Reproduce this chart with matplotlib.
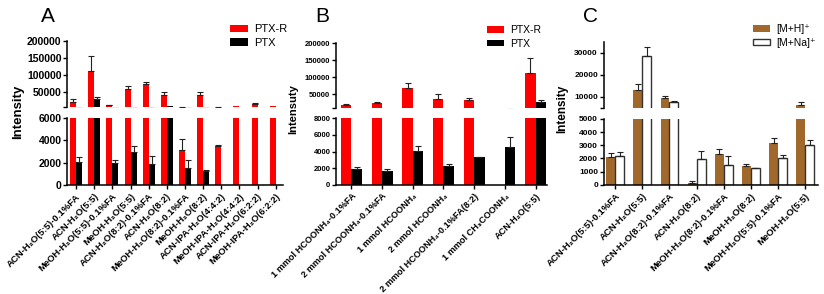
import matplotlib
matplotlib.use("Agg")
import matplotlib.pyplot as plt
import numpy as np

plt.rcParams['font.family'] = ['Liberation Sans', 'DejaVu Sans']

W, H = 824, 294

# ---------------- data ----------------
A_cats = ['ACN-H₂O(5:5)-0.1%FA', 'ACN-H₂O(5:5)', 'MeOH-H₂O(5:5)-0.1%FA', 'MeOH-H₂O(5:5)',
          'ACN-H₂O(8:2)-0.1%FA', 'ACN-H₂O(8:2)', 'MeOH-H₂O(8:2)-0.1%FA', 'MeOH-H₂O(8:2)',
          'ACN-IPA-H₂O(4:4:2)', 'MeOH-IPA-H₂O(4:4:2)', 'ACN-IPA-H₂O(6:2:2)', 'MeOH-IPA-H₂O(6:2:2)']
A_ptxr = [19000, 110000, 10000, 57000, 72000, 40000, 3100, 40000, 3450, 7500, 14000, 8000]
A_ptxr_err = [9000, 45000, 1500, 9000, 7000, 9000, 1000, 8000, 100, 0, 2000, 0]
A_ptx = [2100, 28000, 1950, 3000, 1900, 9000, 1500, 1250, 0, 0, 0, 0]
A_ptx_err = [400, 5000, 300, 450, 700, 0, 700, 50, 0, 0, 0, 0]

B_cats = ['1 mmol HCOONH₄-0.1%FA', '2 mmol HCOONH₄-0.1%FA', '1 mmol HCOONH₄',
          '2 mmol HCOONH₄', '2 mmol HCOONH₄-0.1%FA(8:2)', '1 mmol CH₃COONH₄', 'ACN-H₂O(5:5)']
B_ptxr = [20000, 25000, 69000, 37000, 33000, 0, 112000]
B_ptxr_err = [2000, 3500, 13000, 13000, 6000, 0, 44000]
B_ptx = [1850, 1650, 4100, 2300, 3300, 4600, 28000]
B_ptx_err = [300, 250, 550, 250, 50, 1200, 5000]

C_cats = ['ACN-H₂O(5:5)-0.1%FA', 'ACN-H₂O(5:5)', 'ACN-H₂O(8:2)-0.1%FA', 'ACN-H₂O(8:2)',
          'MeOH-H₂O(8:2)-0.1%FA', 'MeOH-H₂O(8:2)', 'MeOH-H₂O(5:5)-0.1%FA', 'MeOH-H₂O(5:5)']
C_mh = [2100, 13000, 9500, 100, 2350, 1450, 3200, 6300]
C_mh_err = [300, 3000, 900, 150, 350, 100, 350, 1200]
C_mna = [2150, 28500, 7800, 1950, 1500, 1250, 2000, 3050]
C_mna_err = [350, 4000, 400, 650, 650, 30, 250, 350]

RED = '#FF0000'
BLACK = '#000000'
BROWN = '#A0692B'

fig = plt.figure(figsize=(W / 100, H / 100), dpi=100)


def add_ax(x0, x1, ytop, ybot):
    return fig.add_axes([x0 / W, 1 - ybot / H, (x1 - x0) / W, (ybot - ytop) / H])


def panel(cats, s1, e1, s2, e2, c1, c2, ec2, xpx, top_px, bot_px, top_lim, bot_lim,
          top_ticks, bot_ticks, xlim, bw, ytick_fs, xtick_fs):
    x = np.arange(len(cats))
    axt = add_ax(xpx[0], xpx[1], top_px[0], top_px[1])
    axb = add_ax(xpx[0], xpx[1], bot_px[0], bot_px[1])
    handles = None
    for ax in (axt, axb):
        b1 = ax.bar(x - bw / 2, s1, bw, color=c1, edgecolor=c1, linewidth=0)
        b2 = ax.bar(x + bw / 2, s2, bw, color=c2,
                    edgecolor=ec2 if ec2 else c2, linewidth=1.0 if ec2 else 0)
        for xs, vals, errs in ((x - bw / 2, s1, e1), (x + bw / 2, s2, e2)):
            v = np.array(vals, float)
            e = np.array(errs, float)
            m = e > 0
            ax.errorbar(xs[m], v[m], yerr=[np.zeros(m.sum()), e[m]], fmt='none',
                        ecolor='#222222', elinewidth=0.8, capsize=2.2, capthick=0.8)
        handles = (b1, b2)
        ax.set_xlim(*xlim)
        for s in ('top', 'right'):
            ax.spines[s].set_visible(False)
        ax.spines['left'].set_linewidth(1.1)
        ax.spines['bottom'].set_linewidth(1.1)
        ax.tick_params(axis='y', length=3, width=1, pad=1, labelsize=ytick_fs)
    axt.set_ylim(*top_lim)
    axb.set_ylim(*bot_lim)
    axt.set_yticks([top_lim[0]] + top_ticks, [''] + [str(t) for t in top_ticks],
                   fontweight='bold', fontsize=ytick_fs)
    axb.set_yticks(bot_ticks, [str(t) for t in bot_ticks], fontweight='bold', fontsize=ytick_fs)
    axt.spines['bottom'].set_visible(False)
    axt.set_xticks([])
    axb.set_xticks(x)
    axb.set_xticklabels(cats, rotation=45, ha='right', rotation_mode='anchor',
                        fontweight='bold', fontsize=xtick_fs)
    axb.tick_params(axis='x', length=3, width=1, pad=2)
    return axt, axb, handles


# Panel A
_, _, hA = panel(A_cats, A_ptxr, A_ptxr_err, A_ptx, A_ptx_err, RED, BLACK, None,
                 (67, 283), (40.7, 107), (118, 185), (5000, 200000), (0, 6000),
                 [50000, 100000, 150000, 200000], [0, 2000, 4000, 6000],
                 (-0.5, 11.4), 0.33, 7.5, 6.8)
# Panel B
_, _, hB = panel(B_cats, B_ptxr, B_ptxr_err, B_ptx, B_ptx_err, RED, BLACK, None,
                 (336, 547), (43.3, 108.3), (118.3, 184.7), (9000, 200000), (0, 8000),
                 [50000, 100000, 150000, 200000], [0, 2000, 4000, 6000, 8000],
                 (-0.5, 6.37), 0.34, 5.5, 6.6)
# Panel C
_, _, hC = panel(C_cats, C_mh, C_mh_err, C_mna, C_mna_err, BROWN, 'white', '#333333',
                 (603.5, 818), (41.6, 107.8), (119, 184.7), (5000, 35000), (0, 5000),
                 [10000, 20000, 30000], [0, 1000, 2000, 3000, 4000, 5000],
                 (-0.43, 7.47), 0.33, 6, 6.8)

# legends
def legend(handles, labels, xpx, ypx, fs):
    fig.legend(handles, labels, loc='upper left',
               bbox_to_anchor=(xpx / W, 1 - ypx / H), bbox_transform=fig.transFigure,
               frameon=False, fontsize=fs, borderpad=0, borderaxespad=0,
               handlelength=1.6, handleheight=0.6, handletextpad=0.6, labelspacing=0.35)

legend(hA, ['PTX-R', 'PTX'], 230, 24, 8)
legend(hB, ['PTX-R', 'PTX'], 487, 25, 7.5)
legend(hC, ['[M+H]⁺', '[M+Na]⁺'], 753, 24, 7.5)

# panel letters
for lx, lt in ((48, 'A'), (322, 'B'), (590, 'C')):
    fig.text(lx / W, 1 - 16 / H, lt, ha='center', va='center', fontsize=15)

# y labels
fig.text(18 / W, 1 - 112 / H, 'Intensity', rotation=90, ha='center', va='center',
         fontsize=9.5, fontweight='bold')
fig.text(293 / W, 1 - 109 / H, 'Intensuty', rotation=90, ha='center', va='center',
         fontsize=8, fontweight='bold')
fig.text(562 / W, 1 - 109 / H, 'Intensity', rotation=90, ha='center', va='center',
         fontsize=8.5, fontweight='bold')

fig.savefig('out.png', dpi=100)
